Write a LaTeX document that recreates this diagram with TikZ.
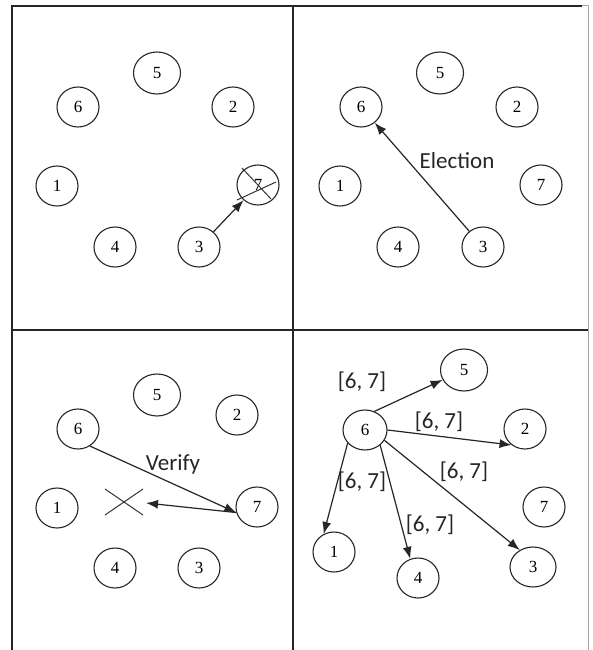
\documentclass[tikz,border=0pt]{standalone}
\usepackage{fontspec}
\setmainfont{Liberation Serif}
\newfontfamily\labfont{Carlito}
\usetikzlibrary{shapes.geometric,arrows.meta}
\tikzset{
  proc/.style={draw=black!85, line width=1.1pt, ellipse, minimum width=42pt, minimum height=40pt, inner sep=0pt, font=\fontsize{17}{17}\selectfont},
  bigproc/.style={proc, minimum width=47pt, minimum height=42pt},
  msg/.style={draw=black!85, line width=1.2pt, -{Latex[length=12pt,width=9pt]}},
  lbl/.style={font=\labfont\fontsize{23}{23}\selectfont, text=black!85, inner sep=0pt},
  frame/.style={draw=black!85, line width=1.3pt},
  cross/.style={draw=black!80, line width=1pt}
}
\begin{document}
\begin{tikzpicture}[x=1pt,y=-1pt]
\useasboundingbox (0,0) rectangle (592,650);
\fill[white] (0,0) rectangle (592,650);
% frame
\draw[frame] (12,650) -- (12,6) -- (582,6);
\draw[draw=black!35, line width=1pt] (582,6) -- (588,6) -- (588,650);
\draw[frame] (293,6) -- (293,650);
\draw[frame] (12,330) -- (588,330);

% ---------- panel 1 ----------
\node[bigproc] (a5) at (157,73) {5};
\node[proc] (a6) at (78,107) {6};
\node[proc] (a2) at (233,107) {2};
\node[proc] (a1) at (57,186) {1};
\node[proc] (a7) at (258,185) {7};
\node[proc] (a4) at (115,247) {4};
\node[proc] (a3) at (199,247) {3};
\draw[cross] (242,168) -- (271,199);
\draw[cross] (237,200) -- (276,182);
\draw[msg] (a3) -- (a7);

% ---------- panel 2 ----------
\node[bigproc] (b5) at (440,73) {5};
\node[proc] (b6) at (361,107) {6};
\node[proc] (b2) at (517,107) {2};
\node[proc] (b1) at (340,186) {1};
\node[proc] (b7) at (541,185) {7};
\node[proc] (b4) at (398,247) {4};
\node[proc] (b3) at (483,247) {3};
\draw[msg] (b3) -- (b6);
\node[lbl] (elect) at (457,161) {Election};

% ---------- panel 3 ----------
\node[bigproc] (c5) at (157,395) {5};
\node[proc] (c6) at (78,429) {6};
\node[proc] (c2) at (237,415) {2};
\node[proc] (c1) at (57,508) {1};
\node[proc] (c7) at (257,507) {7};
\node[proc] (c4) at (115,568) {4};
\node[proc] (c3) at (199,568) {3};
\coordinate (cxr) at (146,503);
\draw[cross] (105,489) -- (143,515);
\draw[cross] (105,515) -- (143,489);
\draw[msg] (c6.-55) -- (c7.195);
\draw[msg] (c7.195) -- (cxr);
\node[lbl] (verify) at (173,464) {Verify};

% ---------- panel 4 ----------
\node[bigproc] (d5) at (464,370) {5};
\node[proc, minimum width=44pt] (d6) at (365,430) {6};
\node[proc] (d2) at (525,429) {2};
\node[proc] (d7) at (544,507) {7};
\node[proc] (d1) at (334,552) {1};
\node[proc] (d4) at (418,578) {4};
\node[proc, minimum width=46pt] (d3) at (533,567) {3};
\draw[msg] (d6.63) -- (d5);
\draw[msg] (d6.east) -- (d2.230);
\draw[msg] (d6.-28) -- (d3.128);
\draw[msg] (d6.-45) -- (d4.112);
\draw[msg] (d6.-143) -- (d1.120);
\node[lbl] (l5) at (362,382) {[6, 7]};
\node[lbl] (l2) at (439,422) {[6, 7]};
\node[lbl] (l3) at (464,472) {[6, 7]};
\node[lbl] (l1) at (362,482) {[6, 7]};
\node[lbl] (l4) at (430,525) {[6, 7]};
\end{tikzpicture}
\end{document}
